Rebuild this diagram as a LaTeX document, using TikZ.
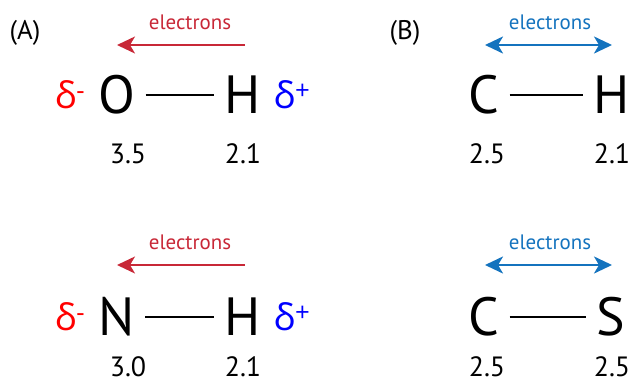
\documentclass[tikz,border=0pt]{standalone}
\usepackage{fontspec}
\setmainfont{PT Sans}
\newfontfamily\grk{Open Sans}
\usetikzlibrary{arrows.meta}
\definecolor{arrred}{RGB}{200,40,55}
\definecolor{arrblue}{RGB}{20,115,190}
\definecolor{dneg}{RGB}{255,0,0}
\definecolor{dpos}{RGB}{0,0,255}
\tikzset{
  atom/.style={inner sep=0pt, font=\fontsize{54}{54}\selectfont},
  enval/.style={inner sep=0pt, font=\fontsize{28}{28}\selectfont},
  panel/.style={inner sep=0pt, font=\fontsize{27}{27}\selectfont},
  elabel/.style={inner sep=0pt, font=\fontsize{21}{21}\selectfont},
  delta/.style={inner sep=0pt, font=\grk\fontsize{37}{37}\selectfont},
  bond/.style={line width=1.5bp, shorten <=10bp, shorten >=11bp},
  polar/.style={draw=arrred, line width=2bp, -{Stealth[length=18bp,width=17bp,inset=5bp]}},
  equal/.style={draw=arrblue, line width=2.5bp, {Stealth[length=18bp,width=17bp,inset=5bp]}-{Stealth[length=18bp,width=17bp,inset=5bp]}}
}
\begin{document}
\begin{tikzpicture}[x=1bp,y=-1bp]
\useasboundingbox (0,0) rectangle (635,385);
% Panel A
\node[panel] (lA) at (25,33) {(A)};
\coordinate (r1s) at (245,45);
\coordinate (r1e) at (117,45);
\draw[polar] (r1s) -- (r1e);
\node[elabel, text=arrred] (e1) at (190,22) {electrons};
\node[delta, text=dneg] (dm1) at (70,95) {δ\textsuperscript{-}};
\node[atom] (O) at (117,95) {O};
\node[atom] (H1) at (243,95) {H};
\node[delta, text=dpos] (dp1) at (292,95) {δ\textsuperscript{+}};
\draw[bond] (O) -- (H1);
\node[enval] (v1) at (128,154) {3.5};
\node[enval] (v2) at (243,154) {2.1};

\coordinate (r2s) at (245,265);
\coordinate (r2e) at (117,265);
\draw[polar] (r2s) -- (r2e);
\node[elabel, text=arrred] (e2) at (190,242) {electrons};
\node[delta, text=dneg] (dm2) at (70,317) {δ\textsuperscript{-}};
\node[atom] (N) at (117,317) {N};
\node[atom] (H2) at (243,317) {H};
\node[delta, text=dpos] (dp2) at (292,317) {δ\textsuperscript{+}};
\draw[bond] (N) -- (H2);
\node[enval] (v3) at (128,367) {3.0};
\node[enval] (v4) at (243,367) {2.1};

% Panel B
\node[panel] (lB) at (405,33) {(B)};
\coordinate (b1s) at (485,45);
\coordinate (b1e) at (612,45);
\draw[equal] (b1s) -- (b1e);
\node[elabel, text=arrblue] (e3) at (550,22) {electrons};
\node[atom] (C1) at (484,95) {C};
\node[atom] (H3) at (612,95) {H};
\draw[bond] (C1) -- (H3);
\node[enval] (v5) at (487,154) {2.5};
\node[enval] (v6) at (612,154) {2.1};

\coordinate (b2s) at (485,265);
\coordinate (b2e) at (612,265);
\draw[equal] (b2s) -- (b2e);
\node[elabel, text=arrblue] (e4) at (550,242) {electrons};
\node[atom] (C2) at (484,317) {C};
\node[atom] (S) at (611,317) {S};
\draw[bond] (C2) -- (S);
\node[enval] (v7) at (487,367) {2.5};
\node[enval] (v8) at (612,367) {2.5};
\end{tikzpicture}
\end{document}
